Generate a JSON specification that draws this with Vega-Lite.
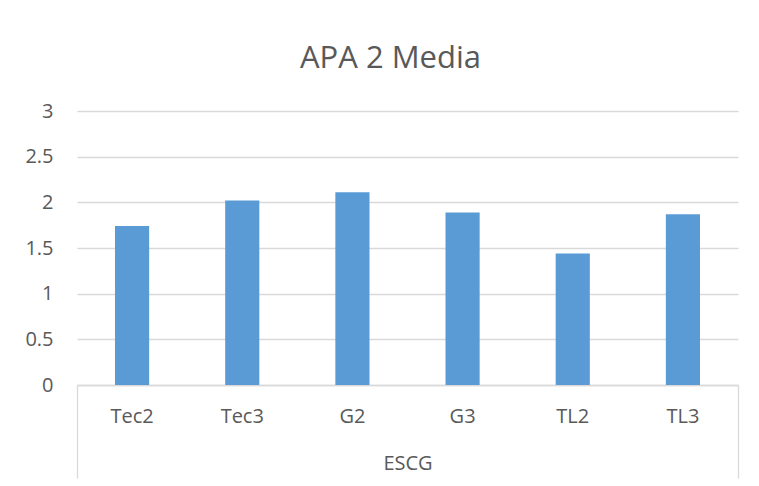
{
  "$schema": "https://vega.github.io/schema/vega-lite/v6.json",
  "autosize": "none",
  "width": 661,
  "height": 274,
  "padding": {"left": 77, "top": 111, "right": 21, "bottom": 101},
  "background": "white",
  "title": {
    "text": "APA 2 Media",
    "font": "Open Sans",
    "fontSize": 31,
    "fontWeight": "normal",
    "color": "#595959",
    "anchor": "middle",
    "frame": "group",
    "dx": -17,
    "baseline": "alphabetic",
    "offset": 2
  },
  "config": {
    "view": {"stroke": null},
    "axis": {
      "labelFont": "Open Sans",
      "labelFontSize": 20,
      "labelColor": "#595959",
      "domainColor": "#d9d9d9",
      "gridColor": "#d9d9d9",
      "tickColor": "#d9d9d9",
      "title": null
    }
  },
  "data": {
    "values": [
      {"categoria": "Tec2", "grupo": "ESCG", "media": 1.74},
      {"categoria": "Tec3", "grupo": "ESCG", "media": 2.02},
      {"categoria": "G2", "grupo": "ESCG", "media": 2.11},
      {"categoria": "G3", "grupo": "ESCG", "media": 1.89},
      {"categoria": "TL2", "grupo": "ESCG", "media": 1.44},
      {"categoria": "TL3", "grupo": "ESCG", "media": 1.87}
    ]
  },
  "layer": [
    {
      "mark": {"type": "bar", "color": "#5b9bd5"},
      "encoding": {
        "x": {
          "field": "categoria",
          "type": "nominal",
          "sort": null,
          "scale": {"paddingInner": 0.69, "paddingOuter": 0.345},
          "axis": {
            "labelAngle": 0,
            "ticks": false,
            "tickSize": 0,
            "labelBaseline": "middle",
            "labelPadding": 31,
            "domainWidth": 1.3
          }
        },
        "y": {
          "field": "media",
          "type": "quantitative",
          "scale": {"domain": [0, 3]},
          "axis": {
            "values": [0, 0.5, 1, 1.5, 2, 2.5, 3],
            "format": "~g",
            "domain": false,
            "ticks": false,
            "tickSize": 0,
            "labelPadding": 24,
            "labelBaseline": "middle",
            "gridWidth": 1.3
          }
        }
      }
    },
    {
      "mark": {"type": "rect", "opacity": 0},
      "encoding": {
        "x": {
          "field": "grupo",
          "type": "nominal",
          "scale": {"paddingInner": 0, "paddingOuter": 0},
          "axis": {
            "orient": "top",
            "offset": -367,
            "domain": false,
            "tickBand": "extent",
            "tickSize": 93,
            "tickWidth": 1.3,
            "labelAngle": 0,
            "labelBaseline": "middle",
            "labelPadding": -78
          }
        }
      }
    }
  ],
  "resolve": {"scale": {"x": "independent"}, "axis": {"x": "independent"}}
}
